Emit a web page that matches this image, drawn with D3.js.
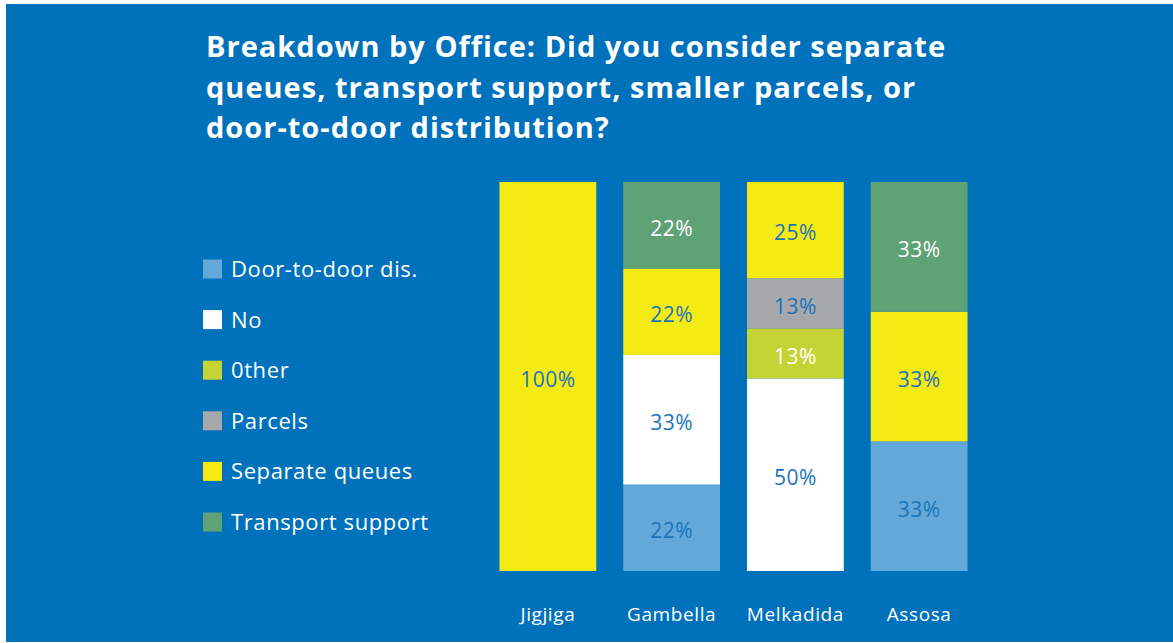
<!DOCTYPE html>
<html>
<head>
<meta charset="utf-8">
<script src="https://cdn.jsdelivr.net/npm/d3@7"></script>
<style>
  body { margin: 0; background: #ffffff; }
  svg { display: block; font-family: "Open Sans", Lato, sans-serif; }
</style>
</head>
<body>
<svg id="chart" width="1173" height="643"></svg>
<script>
// data
var offices = ["Jigjiga", "Gambella", "Melkadida", "Assosa"];
var answers = ["Door-to-door dis.", "No", "0ther", "Parcels", "Separate queues", "Transport support"];
var doorToDoor = [0, 22, 0, 33];
var no = [0, 33, 50, 0];
var other = [0, 0, 13, 0];
var parcels = [0, 0, 13, 0];
var separateQueues = [100, 22, 25, 33];
var transportSupport = [0, 22, 0, 33];
var titleLines = [
  "Breakdown by Office: Did you consider separate",
  "queues, transport support, smaller parcels, or",
  "door-to-door distribution?"
];

var fills = ["#62a8d8", "#ffffff", "#c6d334", "#a7a8ac", "#f4eb12", "#5fa276"];
var labelColors = ["#1b74ba", "#1b74ba", "#ffffff", "#1b74ba", "#1b74ba", "#ffffff"];

var rows = offices.map(function(o, i) {
  var r = { office: o };
  var vals = [doorToDoor[i], no[i], other[i], parcels[i], separateQueues[i], transportSupport[i]];
  var total = d3.sum(vals);
  answers.forEach(function(a, j) { r[a] = vals[j]; r[a + "_share"] = vals[j] / total; });
  return r;
});

var svg = d3.select("#chart");
// blue panel
svg.append("rect").attr("x", 6).attr("y", 4).attr("width", 1167).attr("height", 638).attr("fill", "#0071bb");

// title
var title = svg.append("text")
  .attr("x", 206).attr("y", 57)
  .attr("fill", "#ffffff")
  .attr("font-size", "29px")
  .attr("letter-spacing", "1px")
  .attr("font-weight", "bold");
title.selectAll("tspan")
  .data(titleLines)
  .enter()
  .append("tspan")
  .attr("x", 206)
  .attr("dy", function(d, i) { return i === 0 ? 0 : 40.5; })
  .text(function(d) { return d; });

// scales
var xscale = d3.scaleBand().domain(offices).range([486, 981]).paddingInner(0.218).paddingOuter(0.109);
var yscale = d3.scaleLinear().domain([0, 1]).range([571, 182]);

var stack = d3.stack().keys(answers.map(function(a) { return a + "_share"; }));
var series = stack(rows);

series.forEach(function(s, j) {
  svg.append("g")
    .selectAll("rect")
    .data(s)
    .enter()
    .append("rect")
    .attr("x", function(d) { return xscale(d.data.office); })
    .attr("y", function(d) { return yscale(d[1]); })
    .attr("width", xscale.bandwidth())
    .attr("height", function(d) { return yscale(d[0]) - yscale(d[1]); })
    .attr("fill", fills[j]);
});

series.forEach(function(s, j) {
  svg.append("g")
    .selectAll("text")
    .data(s.filter(function(d) { return d[1] - d[0] > 0; }))
    .enter()
    .append("text")
    .attr("x", function(d) { return xscale(d.data.office) + xscale.bandwidth() / 2; })
    .attr("y", function(d) { return (yscale(d[0]) + yscale(d[1])) / 2 + 3; })
    .attr("dy", "0.35em")
    .attr("text-anchor", "middle")
    .attr("font-size", "21px")
    .attr("letter-spacing", "0.5px")
    .attr("fill", labelColors[j])
    .text(function(d) { return d.data[answers[j]] + "%"; });
});

// x axis labels
var xaxis = d3.axisBottom(xscale).tickSize(0).tickPadding(0);
var gx = svg.append("g")
  .attr("transform", "translate(0, 607)")
  .call(xaxis);
gx.select(".domain").remove();
gx.selectAll("text")
  .attr("fill", "#ffffff")
  .attr("font-size", "19px")
  .attr("letter-spacing", "0.6px")
  .attr("font-family", "'Open Sans', sans-serif");

// legend
var legend = svg.append("g")
  .selectAll("g")
  .data(answers)
  .enter()
  .append("g")
  .attr("transform", function(d, i) { return "translate(203," + (269 + i * 50.6) + ")"; });

legend.append("rect")
  .attr("x", 0).attr("y", -9.5)
  .attr("width", 19).attr("height", 19)
  .attr("fill", function(d, i) { return fills[i]; });

legend.append("text")
  .attr("x", 28)
  .attr("dy", "0.36em")
  .attr("fill", "#ffffff")
  .attr("font-size", "22px")
  .attr("letter-spacing", "0.6px")
  .text(function(d) { return d; });
</script>
</body>
</html>
